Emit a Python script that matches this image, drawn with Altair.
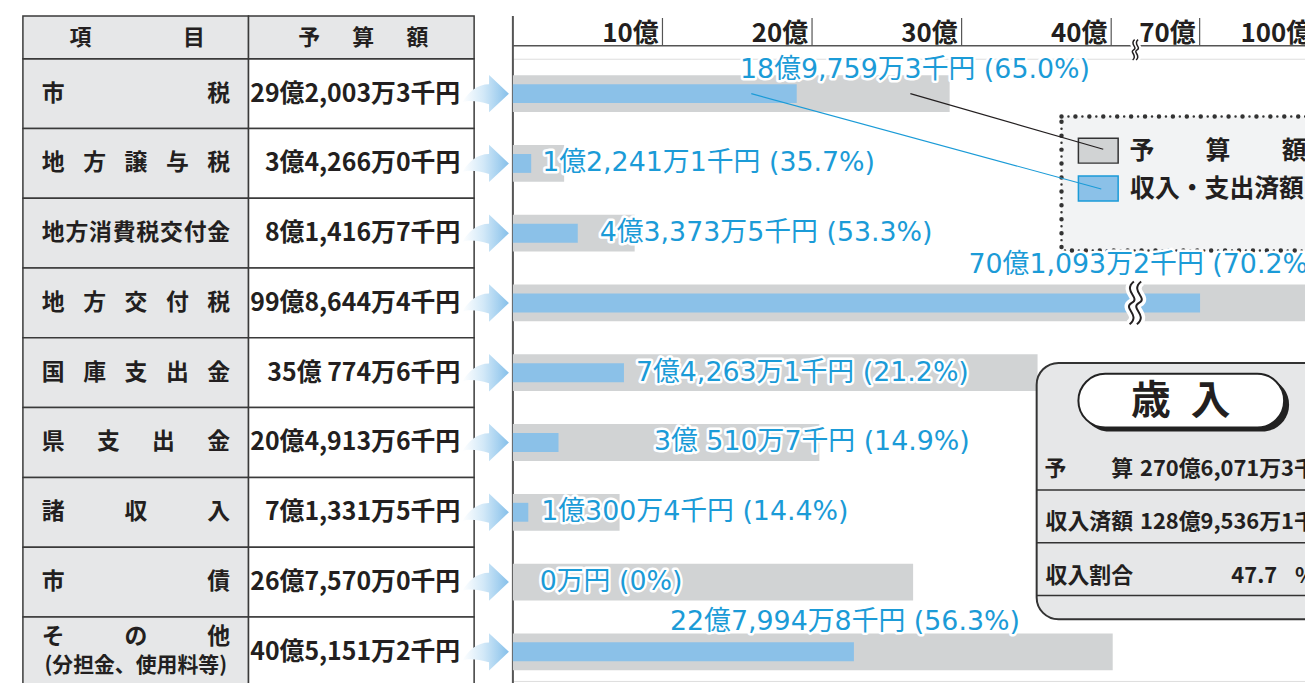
import altair as alt
import pandas as pd

# ---------------- data ----------------
ITEMS = ["市税", "地方譲与税", "地方消費税交付金", "地方交付税", "国庫支出金",
         "県支出金", "諸収入", "市債", "その他"]
ITEM_SUB = ["", "", "", "", "", "", "", "", "(分担金、使用料等)"]
BUDGET_K = [2920033, 342660, 814167, 9986444, 3507746, 2049136, 713315, 2675700, 4051512]  # 千円
ACTUAL_K = [1897593, 122411, 433735, 7010932, 742631, 305107, 103004, 0, 2279948]          # 千円
BUDGET_TEXT = ["29億2,003万3千円", "3億4,266万0千円", "8億1,416万7千円", "99億8,644万4千円",
               "35億 774万6千円", "20億4,913万6千円", "7億1,331万5千円", "26億7,570万0千円",
               "40億5,151万2千円"]
ACTUAL_TEXT = ["18億9,759万3千円", "1億2,241万1千円", "4億3,373万5千円", "70億1,093万2千円",
               "7億4,263万1千円", "3億 510万7千円", "1億300万4千円", "0万円", "22億7,994万8千円"]
PCT_TEXT = ["65.0", "35.7", "53.3", "70.2", "21.2", "14.9", "14.4", "0", "56.3"]
TICKS = [10, 20, 30, 40, 70, 100]
HEADERS = ["項目", "予算額"]
LEGEND = ["予算額", "収入・支出済額"]
SUMMARY_TITLE = "歳入"
SUMMARY_ROWS = ["予算", "収入済額", "収入割合"]


def fmt_yen(k):
    oku, rest = divmod(k, 100000)
    man, sen = divmod(rest, 10)
    return f"{oku}億{man:,}万{sen}千円"


TOTAL_B = sum(BUDGET_K)
TOTAL_A = sum(ACTUAL_K)
SUMMARY_VALUES = [fmt_yen(TOTAL_B), fmt_yen(TOTAL_A), f"{TOTAL_A / TOTAL_B * 100:.1f}"]

# ---------------- layout / style ----------------
ROW_H = 70.2
PLOT_W, PLOT_H = 797, 626
X_DOMAIN = [0, 40, 70, 100]
X_RANGE = [0, 602, 691, 808]
BREAK_AT = 48.2
LABEL_DX = [119, 11, 22, -57, 12, 96, 13, 27, -9]
LABEL_DY = [-24, 0, 0, -38, 0, 0, 0, 0, -30]
LABEL_ABOVE = [True, False, False, True, False, False, False, False, True]
BLUE_TXT = "#1b9bd7"
BLUE_BAR = "#8bc1e8"
GRAY_BAR = "#d1d3d4"
CELL_GRAY = "#e6e7e8"
INK = "#231f20"
CJK = "Noto Sans CJK JP"
LABEL_FONT = "DejaVu Sans, Noto Sans CJK JP"

xscale = alt.Scale(domain=X_DOMAIN, range=X_RANGE, nice=False, zero=False)
yscale = alt.Scale(domain=ITEMS, range=[0, ROW_H * len(ITEMS)], paddingInner=0, paddingOuter=0)
Y = alt.Y("item:N", scale=yscale, axis=None)


def spread(text, first, last):
    n = len(text)
    if n == 1:
        return [(text, (first + last) / 2)]
    step = (last - first) / (n - 1)
    return [(c, first + i * step) for i, c in enumerate(text)]


df = pd.DataFrame({
    "item": ITEMS,
    "sub": ITEM_SUB,
    "budget": [v / 100000 for v in BUDGET_K],
    "actual": [v / 100000 for v in ACTUAL_K],
    "btext": BUDGET_TEXT,
    "label": [f"{a} ({p}%)" for a, p in zip(ACTUAL_TEXT, PCT_TEXT)],
    "ldx": LABEL_DX,
    "ldy": LABEL_DY,
    "above": LABEL_ABOVE,
})
one = pd.DataFrame({"k": [0]})

chars = []
for it, sub in zip(ITEMS, ITEM_SUB):
    for c, px in spread(it, -462.5, -296):
        chars.append({"item": it, "ch": c, "px": px, "has_sub": sub != ""})
df_chars = pd.DataFrame(chars)

head = spread(HEADERS[0], -435, -321) + spread(HEADERS[1], -205, -96)
df_head = pd.DataFrame(head, columns=["ch", "px"])
df_leg = pd.DataFrame(spread(LEGEND[0], 633, 786), columns=["ch", "px"])
df_sum0 = pd.DataFrame(spread(SUMMARY_ROWS[0], 546, 613), columns=["ch", "px"])

df_ticks = pd.DataFrame({"t": TICKS, "tl": [f"{t}億" for t in TICKS]})
df_break = pd.DataFrame({"v": [BREAK_AT]})
df_bar_break = df[df["budget"] > BREAK_AT].assign(v=BREAK_AT)

ARROW = ("M -1 0.38 C -0.75 -0.05 -0.35 -0.4 0.15 -0.4 L 0.15 -0.8 L 1 0 "
         "L 0.15 0.8 L 0.15 0.45 C -0.35 0.32 -0.7 0.26 -1 0.38 Z")


def s_curve(x0):
    return (f"M {x0 + 0.1} -1 C {x0 - 0.45} -0.55 {x0 + 0.45} -0.25 {x0} 0 "
            f"C {x0 - 0.45} 0.25 {x0 + 0.45} 0.55 {x0 - 0.1} 1")


SQUIGGLE = s_curve(-0.17) + " " + s_curve(0.17)

grad = alt.Gradient(gradient="linear", x1=0, x2=1, y1=0, y2=0,
                    stops=[alt.GradientStop(color="#ffffff", offset=0),
                           alt.GradientStop(color="#d3e9f8", offset=0.45),
                           alt.GradientStop(color="#86c0ea", offset=1)])

layers = []

# ---- table ----
layers.append(alt.Chart(df).mark_rect(fill=CELL_GRAY, stroke="#3a3a3a", strokeWidth=1.5).encode(
    x=alt.value(-493), x2=alt.value(-266), y=Y))
layers.append(alt.Chart(df).mark_rect(fill="white", stroke="#3a3a3a", strokeWidth=1.5).encode(
    x=alt.value(-266), x2=alt.value(-39), y=Y))
layers.append(alt.Chart(one).mark_rect(fill=CELL_GRAY, stroke="#3a3a3a", strokeWidth=1.5).encode(
    x=alt.value(-493), x2=alt.value(-266), y=alt.value(-43), y2=alt.value(0)))
layers.append(alt.Chart(one).mark_rect(fill=CELL_GRAY, stroke="#3a3a3a", strokeWidth=1.5).encode(
    x=alt.value(-266), x2=alt.value(-39), y=alt.value(-43), y2=alt.value(0)))
layers.append(alt.Chart(df_head).mark_text(font=CJK, fontSize=22, fontWeight="bold", color=INK,
                                           baseline="middle").encode(
    x=alt.X("px:Q", scale=None), y=alt.value(-21), text="ch:N"))
layers.append(alt.Chart(df_chars).transform_filter("!datum.has_sub").mark_text(
    font=CJK, fontSize=23, fontWeight="bold", color=INK, baseline="middle").encode(
    x=alt.X("px:Q", scale=None), y=Y, text="ch:N"))
layers.append(alt.Chart(df_chars).transform_filter("datum.has_sub").mark_text(
    font=CJK, fontSize=23, fontWeight="bold", color=INK, baseline="middle", dy=-15).encode(
    x=alt.X("px:Q", scale=None), y=Y, text="ch:N"))
layers.append(alt.Chart(df).transform_filter("datum.sub != ''").mark_text(
    font=CJK, fontSize=21, fontWeight="bold", color=INK, baseline="middle", dy=14).encode(
    x=alt.value(-379.5), y=Y, text="sub:N"))
layers.append(alt.Chart(df).mark_text(font=CJK, fontSize=25, fontWeight="bold", color=INK,
                                      align="right", baseline="middle").encode(
    x=alt.value(-53), y=Y, text="btext:N"))
layers.append(alt.Chart(df).mark_point(shape=ARROW, size=2209, filled=True, fill=grad,
                                       strokeWidth=0, opacity=1).encode(
    x=alt.value(-27.5), y=Y))

# ---- axis ----
layers.append(alt.Chart(one).mark_rule(color="#555", strokeWidth=2).encode(
    x=alt.value(0), y=alt.value(-43), y2=alt.value(PLOT_H + 20)))
layers.append(alt.Chart(one).mark_rule(color="#555", strokeWidth=1.5).encode(
    x=alt.value(0), x2=alt.value(PLOT_W + 20), y=alt.value(-13)))
layers.append(alt.Chart(df_ticks).mark_rule(color="#555", strokeWidth=1.2).encode(
    x=alt.X("t:Q", scale=xscale, axis=None), y=alt.value(-41), y2=alt.value(-13)))
layers.append(alt.Chart(df_ticks).mark_text(font=CJK, fontSize=26, fontWeight="bold", color=INK,
                                            align="right", baseline="alphabetic", dx=-4).encode(
    x=alt.X("t:Q", scale=xscale, axis=None), y=alt.value(-17), text="tl:N"))
layers.append(alt.Chart(df_break).mark_point(shape=SQUIGGLE, size=420, filled=False,
                                             stroke="white", strokeWidth=6, opacity=1).encode(
    x=alt.X("v:Q", scale=xscale, axis=None), y=alt.value(-9)))
layers.append(alt.Chart(df_break).mark_point(shape=SQUIGGLE, size=420, filled=False,
                                             stroke=INK, strokeWidth=1.5, opacity=1).encode(
    x=alt.X("v:Q", scale=xscale, axis=None), y=alt.value(-9)))

# ---- bars ----
layers.append(alt.Chart(df).mark_bar(size=37, color=GRAY_BAR).encode(
    x=alt.X("budget:Q", scale=xscale, axis=None), y=Y))
layers.append(alt.Chart(df).mark_bar(size=19, color=BLUE_BAR).encode(
    x=alt.X("actual:Q", scale=xscale, axis=None), y=Y))
layers.append(alt.Chart(df_bar_break).mark_point(shape=SQUIGGLE, size=1849, filled=False,
                                                 stroke="white", strokeWidth=9, opacity=1).encode(
    x=alt.X("v:Q", scale=xscale, axis=None), y=Y))
layers.append(alt.Chart(df_bar_break).mark_point(shape=SQUIGGLE, size=1849, filled=False,
                                                 stroke=INK, strokeWidth=2, opacity=1).encode(
    x=alt.X("v:Q", scale=xscale, axis=None), y=Y))

# ---- legend box ----
layers.append(alt.Chart(one).mark_rect(fill="#f2f3f4").encode(
    x=alt.value(552), x2=alt.value(840), y=alt.value(58), y2=alt.value(193)))
layers.append(alt.Chart(one).mark_rect(fillOpacity=0, stroke="#333", strokeWidth=4.5,
                                       strokeDash=[0.01, 14], strokeCap="round").encode(
    x=alt.value(552), x2=alt.value(840), y=alt.value(58), y2=alt.value(193)))
layers.append(alt.Chart(one).mark_rect(fillOpacity=0, stroke="#333", strokeWidth=2.5,
                                       strokeDash=[0.01, 14], strokeDashOffset=7,
                                       strokeCap="round").encode(
    x=alt.value(552), x2=alt.value(840), y=alt.value(58), y2=alt.value(193)))
layers.append(alt.Chart(one).mark_rect(fill=GRAY_BAR, stroke="#333", strokeWidth=1.5).encode(
    x=alt.value(569), x2=alt.value(609), y=alt.value(80), y2=alt.value(105)))
layers.append(alt.Chart(one).mark_rect(fill=BLUE_BAR, stroke=BLUE_TXT, strokeWidth=1.5).encode(
    x=alt.value(569), x2=alt.value(609), y=alt.value(118), y2=alt.value(143)))
layers.append(alt.Chart(df_leg).mark_text(font=CJK, fontSize=25, fontWeight="bold", color=INK,
                                          baseline="middle").encode(
    x=alt.X("px:Q", scale=None), y=alt.value(93), text="ch:N"))
layers.append(alt.Chart(one).mark_text(font=CJK, fontSize=25, fontWeight="bold", color=INK,
                                       align="left", baseline="middle", text=LEGEND[1]).encode(
    x=alt.value(621), y=alt.value(131)))

# ---- leader lines ----
first = df[df["item"] == ITEMS[0]].assign(bx=lambda d: d["budget"] * 0.91,
                                          ax=lambda d: d["actual"] * 0.84)
layers.append(alt.Chart(first).mark_rule(color=INK, strokeWidth=1.2).encode(
    x=alt.X("bx:Q", scale=xscale, axis=None), y=Y, x2=alt.value(594), y2=alt.value(91)))
layers.append(alt.Chart(first).mark_rule(color=BLUE_TXT, strokeWidth=1.2).encode(
    x=alt.X("ax:Q", scale=xscale, axis=None), y=Y, x2=alt.value(592), y2=alt.value(131)))

# ---- summary box ----
layers.append(alt.Chart(one).mark_rect(fill=CELL_GRAY, stroke="#333", strokeWidth=2,
                                       cornerRadius=22).encode(
    x=alt.value(527), x2=alt.value(860), y=alt.value(306), y2=alt.value(564)))
layers.append(alt.Chart(one).mark_rect(fill="#222", cornerRadius=27).encode(
    x=alt.value(573), x2=alt.value(781), y=alt.value(321), y2=alt.value(375)))
layers.append(alt.Chart(one).mark_rect(fill="white", stroke="#222", strokeWidth=2,
                                       cornerRadius=27).encode(
    x=alt.value(569), x2=alt.value(776), y=alt.value(317), y2=alt.value(371)))
layers.append(alt.Chart(one).mark_text(font=CJK, fontSize=40, fontWeight="bold", color=INK,
                                       baseline="middle",
                                       text=SUMMARY_TITLE[0] + "\u2002" + SUMMARY_TITLE[1]).encode(
    x=alt.value(672), y=alt.value(345)))
for yy in [434, 487, 540]:
    layers.append(alt.Chart(one).mark_rule(color="#333", strokeWidth=1.5).encode(
        x=alt.value(527), x2=alt.value(860), y=alt.value(yy)))
layers.append(alt.Chart(df_sum0).mark_text(font=CJK, fontSize=22, fontWeight="bold", color=INK,
                                           baseline="middle").encode(
    x=alt.X("px:Q", scale=None), y=alt.value(413), text="ch:N"))
layers.append(alt.Chart(one).mark_text(font=CJK, fontSize=22, fontWeight="bold", color=INK,
                                       align="left", baseline="middle", text=SUMMARY_VALUES[0]).encode(
    x=alt.value(631), y=alt.value(413)))
layers.append(alt.Chart(one).mark_text(font=CJK, fontSize=22, fontWeight="bold", color=INK,
                                       align="left", baseline="middle", text=SUMMARY_ROWS[1]).encode(
    x=alt.value(536), y=alt.value(466)))
layers.append(alt.Chart(one).mark_text(font=CJK, fontSize=22, fontWeight="bold", color=INK,
                                       align="left", baseline="middle", text=SUMMARY_VALUES[1]).encode(
    x=alt.value(631), y=alt.value(466)))
layers.append(alt.Chart(one).mark_text(font=CJK, fontSize=22, fontWeight="bold", color=INK,
                                       align="left", baseline="middle", text=SUMMARY_ROWS[2]).encode(
    x=alt.value(536), y=alt.value(520)))
layers.append(alt.Chart(one).mark_text(font=CJK, fontSize=22, fontWeight="bold", color=INK,
                                       align="right", baseline="middle", text=SUMMARY_VALUES[2]).encode(
    x=alt.value(769), y=alt.value(520)))
layers.append(alt.Chart(one).mark_text(font=CJK, fontSize=22, fontWeight="bold", color=INK,
                                       align="left", baseline="middle", text="%").encode(
    x=alt.value(787), y=alt.value(520)))

# ---- value labels (offset per row via expression-driven dx/dy) ----
for above, align in [(False, "left"), (True, "center")]:
    base = alt.Chart(df).transform_filter(f"datum.above == {str(above).lower()}")
    enc = dict(x=alt.X("actual:Q", scale=xscale, axis=None), y=Y, text="label:N")
    common = dict(font=LABEL_FONT, fontSize=27, align=align, baseline="middle",
                  dx={"expr": "datum.ldx"}, dy={"expr": "datum.ldy"})
    layers.append(base.mark_text(fill="white", stroke="white", strokeWidth=5,
                                 strokeJoin="round", **common).encode(**enc))
    layers.append(base.mark_text(fill=BLUE_TXT, **common).encode(**enc))

chart = alt.layer(*layers).properties(
    width=PLOT_W, height=PLOT_H,
    padding={"left": 508, "top": 49, "right": 0, "bottom": 0},
    autosize=alt.AutoSizeParams(type="none"),
    background="white",
).configure_view(stroke=None).configure(font=CJK)

chart.save("out.html", embed_options={"renderer": "svg", "actions": False})
